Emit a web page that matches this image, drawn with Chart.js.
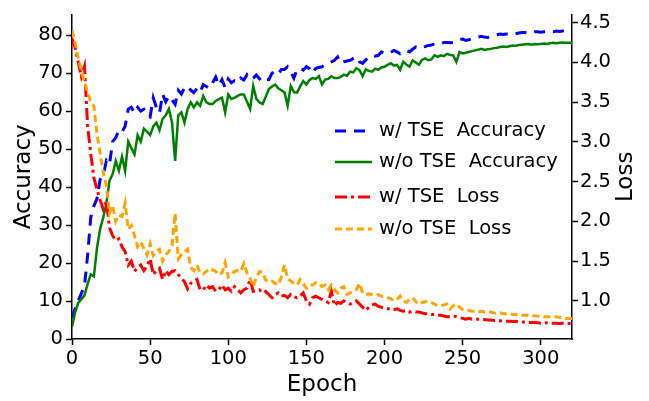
<!DOCTYPE html>
<html>
<head>
<meta charset="utf-8">
<script src="https://cdn.jsdelivr.net/npm/chart.js@4.4.1/dist/chart.umd.min.js"></script>
<style>
  html, body { margin: 0; padding: 0; background: #fff; }
  #wrap { width: 649px; height: 401px; }
</style>
</head>
<body>
<div id="wrap"><canvas id="chart"></canvas></div>
<script>
// values read every 2 epochs (0..320)
const accTse = [
  5.5, 8, 10, 12, 14, 22, 32, 35, 37, 42,
  43, 47, 46, 52, 53, 55, 54.5, 56, 60.5, 61,
  59.5, 61, 60, 60.5, 59, 58.5, 63.5, 61, 59.5, 64.5,
  62.5, 64, 63, 61.8, 65.5, 64.5, 66.2, 66.6, 65.5, 64.9,
  66, 65, 67, 66.5, 66, 67.5, 69, 66.8, 68.3, 66.2,
  68.5, 67.5, 68, 67.5, 68.7, 68.2, 69.6, 68.5, 68.7, 69.5,
  68.5, 69.2, 68.4, 68.3, 70, 70.4, 69.7, 71, 71, 71.7,
  70.5, 68.7, 71, 71.3, 70.8, 71.7, 71.2, 70, 71.3, 71.5,
  71.7, 72.2, 72.6, 73, 73.4, 74.3, 72.6, 73, 73.2, 73.4,
  73.9, 74.3, 73, 72.6, 73.5, 74.3, 74.7, 74.5, 74.7, 75.6,
  75.3, 75.1, 75.5, 76, 75.6, 75.1, 75.5, 76, 75.6, 76.3,
  76.9, 76.5, 76.8, 77, 77.3, 77.4, 77.7, 77.5, 77.8, 78.1,
  78.1, 78, 78.1, 78.5, 78.8, 79, 78.6, 78.8, 79, 79.2,
  79.5, 79.7, 79.5, 79.4, 79.6, 79.9, 80.1, 80.3, 80.2, 80.3,
  80.3, 80.2, 80.4, 80.6, 80.7, 80.7, 80.5, 80.8, 80.9, 80.9,
  80.8, 80.9, 80.9, 81, 80.9, 81.1, 81, 81.1, 81.2, 81.1,
  81.2
];
const accNoTse = [
  3.2, 7, 9.5, 10.5, 11.5, 14.5, 17, 16.5, 24, 29,
  32, 35.7, 41.7, 43.4, 46.9, 44.3, 48, 44.3, 52, 50.3,
  48.6, 53.7, 52, 55.4, 54.6, 53.7, 56, 57, 55, 58,
  58.9, 60.6, 57, 46.9, 58.9, 59.7, 57, 60.6, 62.3, 61,
  62.3, 61.4, 64, 62.3, 61.9, 61.9, 62.7, 63.2, 63.6, 59.7,
  64.4, 63.2, 63.5, 64, 64.4, 64.4, 62.5, 60.6, 66.6, 63.2,
  62.3, 61.9, 63.8, 65.8, 66.5, 67, 66, 65.5, 64.9, 61.4,
  66.6, 65, 64.9, 66.5, 67.9, 67, 68.2, 68.7, 68.5, 69.2,
  67, 68.3, 68.5, 69.2, 68.7, 68.7, 69, 69.6, 69.3, 70.4,
  70.2, 71.3, 70.8, 69.2, 71, 70.6, 70.4, 71.2, 70.9, 71.5,
  71.7, 72.2, 72.6, 72, 72.2, 70.9, 73, 72.3, 71.7, 73.4,
  72.8, 72.2, 73.5, 73.9, 73.4, 73.6, 74.7, 74.3, 74.7, 74.5,
  75.1, 74.8, 74.7, 73, 75.6, 75.2, 75.4, 75.6, 75.8, 76,
  76.2, 76.4, 76.1, 76.3, 76.4, 76.6, 76.7, 76.9, 77, 76.9,
  77.1, 77.3, 77.2, 77.4, 77.5, 77.6, 77.7, 77.5, 77.7, 77.6,
  77.7, 77.8, 77.7, 77.9, 78, 77.9, 78, 78.1, 78, 78,
  78
];
const lossTse = [
  4.3, 4.18, 4.0, 3.82, 3.95, 3.2, 2.85, 2.55, 2.4, 2.27,
  2.15, 2.25, 1.92, 1.82, 1.76, 1.78, 1.68, 1.62, 1.45, 1.5,
  1.37, 1.42, 1.45, 1.38, 1.44, 1.53, 1.33, 1.38, 1.41, 1.27,
  1.38, 1.33, 1.37, 1.38, 1.33, 1.29, 1.24, 1.15, 1.22, 1.25,
  1.27, 1.14, 1.14, 1.2, 1.16, 1.18, 1.12, 1.14, 1.2, 1.14,
  1.16, 1.12, 1.18, 1.14, 1.1, 1.14, 1.16, 1.27, 1.12, 1.13,
  1.14, 1.1, 1.12, 1.08, 1.04, 1.08, 1.1, 1.06, 1.07, 1.04,
  1.08, 1.05, 1.04, 1.06, 1.1, 1.0, 0.96, 1.04, 1.06, 1.04,
  1.02, 1.0, 0.98, 1.12, 0.94, 0.98, 0.97, 1.0, 0.98, 0.96,
  0.98, 1.0, 0.96, 0.92, 0.88, 0.92, 0.95, 0.96, 0.93, 0.92,
  0.91, 0.9, 0.9, 0.89, 0.9, 0.88, 0.87, 0.88, 0.86, 0.87,
  0.86, 0.86, 0.85, 0.84, 0.84, 0.83, 0.83, 0.82, 0.82, 0.81,
  0.8, 0.8, 0.81, 0.8, 0.79, 0.78, 0.77, 0.78, 0.77, 0.775,
  0.77, 0.77, 0.765, 0.76, 0.76, 0.755, 0.755, 0.75, 0.745, 0.745,
  0.745, 0.74, 0.745, 0.74, 0.735, 0.735, 0.73, 0.73, 0.73, 0.725,
  0.72, 0.72, 0.725, 0.72, 0.72, 0.72, 0.715, 0.72, 0.715, 0.715,
  0.715
];
const lossNoTse = [
  4.4, 4.25, 4.05, 3.9, 3.75, 3.62, 3.5, 3.45, 3.1, 2.85,
  2.62, 2.45, 2.1, 2.2, 2.0, 2.08, 2.06, 2.23, 1.9, 1.95,
  1.82, 1.68, 1.74, 1.66, 1.58, 1.72, 1.57, 1.62, 1.65, 1.5,
  1.58, 1.62, 1.7, 2.1, 1.53, 1.58, 1.62, 1.65, 1.42, 1.38,
  1.45, 1.35, 1.34, 1.37, 1.41, 1.39, 1.37, 1.33, 1.35, 1.48,
  1.3, 1.33, 1.37, 1.38, 1.37, 1.47, 1.35, 1.29, 1.18, 1.3,
  1.37, 1.36, 1.26, 1.24, 1.25, 1.22, 1.2, 1.3, 1.45, 1.28,
  1.25, 1.22, 1.2, 1.27, 1.22, 1.16, 1.2, 1.2, 1.23, 1.22,
  1.18, 1.2, 1.14, 1.2, 1.14, 1.1, 1.16, 1.18, 1.08, 1.1,
  1.12, 1.14, 1.22, 1.1, 1.08, 1.09, 1.08, 1.07, 1.08, 1.06,
  1.05, 1.04, 1.03, 1.0, 1.02, 1.06, 1.0, 0.98, 1.02, 1.04,
  0.99, 0.96, 0.98, 0.99, 1.0, 0.98, 0.96, 0.94, 0.94, 0.95,
  0.96, 0.9, 0.94, 0.96, 0.92, 0.89, 0.88, 0.88, 0.87, 0.87,
  0.86, 0.87, 0.86, 0.86, 0.86, 0.85, 0.84, 0.85, 0.84, 0.84,
  0.84, 0.83, 0.83, 0.83, 0.82, 0.82, 0.82, 0.82, 0.81, 0.81,
  0.8, 0.8, 0.8, 0.8, 0.8, 0.8, 0.79, 0.79, 0.78, 0.78,
  0.78
];
const epochs = accTse.map((_, i) => i * 2);

const xTicks = [0, 50, 100, 150, 200, 250, 300];
const accTicks = [0, 10, 20, 30, 40, 50, 60, 70, 80];
const lossTicks = [1.0, 1.5, 2.0, 2.5, 3.0, 3.5, 4.0, 4.5];

const toPoints = arr => arr.map((v, i) => ({ x: epochs[i], y: v }));

const FONT = "'DejaVu Sans', sans-serif";
Chart.defaults.font.family = FONT;
Chart.defaults.color = '#000';

// legend inside the plot + right axis title reading bottom-to-top (matplotlib style)
const insideLegend = {
    id: 'insideLegend',
    afterDatasetsDraw(chart) {
        const ctx = chart.ctx;
        const rows = [131, 162, 197, 229];
        ctx.save();
        ctx.font = '19.5px ' + FONT;
        ctx.textBaseline = 'middle';
        chart.data.datasets.forEach((ds, i) => {
            const y = rows[i];
            ctx.strokeStyle = ds.borderColor;
            ctx.lineWidth = ds.borderWidth;
            ctx.setLineDash(ds.borderDash || []);
            ctx.beginPath();
            ctx.moveTo(335, y);
            ctx.lineTo(372, y);
            ctx.stroke();
            ctx.setLineDash([]);
            ctx.fillStyle = '#000';
            ctx.fillText(ds.label, 379, y);
        });
        ctx.restore();

        const area = chart.chartArea;
        ctx.save();
        ctx.translate(626, (area.top + area.bottom) / 2);
        ctx.rotate(-Math.PI / 2);
        ctx.font = '23px ' + FONT;
        ctx.fillStyle = '#000';
        ctx.textAlign = 'center';
        ctx.textBaseline = 'middle';
        ctx.fillText('Loss', 0, 0);
        ctx.restore();
    }
};

const axisLine = { display: true, color: '#000', width: 1.5 };
const tickGrid = { display: true, drawOnChartArea: false, drawTicks: true, tickLength: 6, tickWidth: 1.5, tickColor: '#000' };

new Chart(document.getElementById('chart'), {
    type: 'line',
    data: {
        datasets: [
            { label: 'w/ TSE  Accuracy', data: toPoints(accTse), yAxisID: 'y', borderColor: 'blue', borderWidth: 3, borderDash: [11, 8], order: 4 },
            { label: 'w/o TSE  Accuracy', data: toPoints(accNoTse), yAxisID: 'y', borderColor: 'green', borderWidth: 2.5, order: 3 },
            { label: 'w/ TSE  Loss', data: toPoints(lossTse), yAxisID: 'y1', borderColor: 'red', borderWidth: 3, borderDash: [12, 4, 3, 4], order: 2 },
            { label: 'w/o TSE  Loss', data: toPoints(lossNoTse), yAxisID: 'y1', borderColor: 'orange', borderWidth: 3, borderDash: [7, 4], order: 1 }
        ]
    },
    options: {
        responsive: true,
        maintainAspectRatio: false,
        animation: false,
        elements: { point: { radius: 0 }, line: { tension: 0, fill: false } },
        layout: { padding: { top: 7, left: 0, right: 0, bottom: 0 } },
        plugins: { legend: { display: false }, tooltip: { enabled: false } },
        scales: {
            x: {
                type: 'linear',
                min: 0,
                max: 320,
                border: axisLine,
                grid: tickGrid,
                afterBuildTicks: s => { s.ticks = xTicks.map(v => ({ value: v })); },
                afterFit: s => { s.height = 62; },
                ticks: { font: { size: 19.5 }, padding: 2, maxRotation: 0 },
                title: { display: true, text: 'Epoch', font: { size: 23 }, padding: { top: 0, bottom: 2 } }
            },
            y: {
                position: 'left',
                min: 0,
                max: 85.4,
                border: axisLine,
                grid: tickGrid,
                afterBuildTicks: s => { s.ticks = accTicks.map(v => ({ value: v })); },
                afterFit: s => { s.width = 72; },
                ticks: { font: { size: 19.5 }, padding: 3 },
                title: { display: true, text: 'Accuracy', font: { size: 23 }, padding: { top: 10, bottom: 0 } }
            },
            y1: {
                position: 'right',
                min: 0.521,
                max: 4.598,
                border: axisLine,
                grid: tickGrid,
                afterBuildTicks: s => { s.ticks = lossTicks.map(v => ({ value: v })); },
                afterFit: s => { s.width = 77; },
                ticks: { font: { size: 19.5 }, padding: 2, callback: v => v.toFixed(1) }
            }
        }
    },
    plugins: [insideLegend]
});
</script>
</body>
</html>
